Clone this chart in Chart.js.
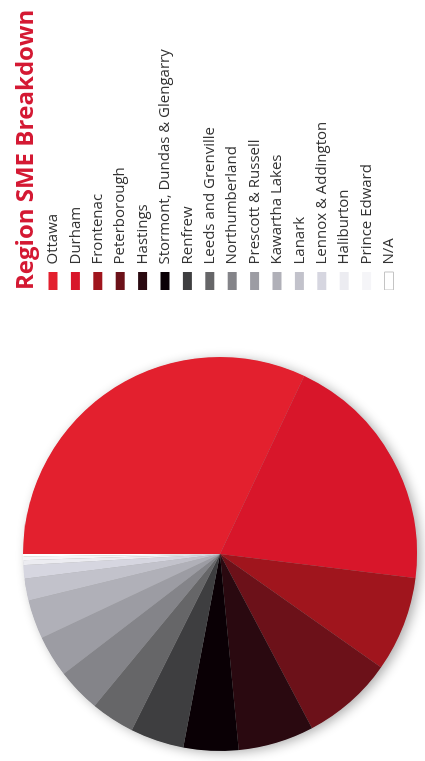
<!DOCTYPE html>
<html>
<head>
<meta charset="utf-8">
<script src="https://cdn.jsdelivr.net/npm/chart.js@4/dist/chart.umd.min.js"></script>
<style>
  html, body { margin: 0; padding: 0; background: #fff; overflow: hidden; }
  /* the page is laid out landscape and turned a quarter turn counter-clockwise */
  #page {
    position: absolute; left: 0; top: 0;
    width: 761px; height: 425px;
    transform-origin: 0 0;
    transform: translate(0, 761px) rotate(-90deg);
  }
  canvas { display: block; }
</style>
</head>
<body>
<div id="page"><canvas id="chart" width="761" height="425"></canvas></div>
<script>
const title = 'Region SME Breakdown';

const regions = [
  'Ottawa', 'Durham', 'Frontenac', 'Peterborough', 'Hastings',
  'Stormont, Dundas & Glengarry', 'Renfrew', 'Leeds and Grenville',
  'Northumberland', 'Prescott & Russell', 'Kawartha Lakes', 'Lanark',
  'Lennox & Addington', 'Haliburton', 'Prince Edward', 'N/A'
];

// share of SMEs per region, in percent
const shares = [32.0, 19.9, 7.8, 7.5, 6.2, 4.5, 4.4, 3.6, 3.6, 3.4, 3.2, 1.8, 1.1, 0.4, 0.3, 0.2];

const sliceColors = [
  '#e3202e', '#d8162a', '#a0151d', '#6c1119', '#2a0910', '#0a0005',
  '#3e3e40', '#666668', '#848489', '#9c9ca3', '#b0b0b8', '#c2c2cb',
  '#d6d6e0', '#ececf1', '#f5f5f8', '#ffffff'
];

// pie on the left half, legend column starting a little past it
const pieBox = { left: 0, top: 12, right: 414, bottom: 428 };
const legendLeft = 471;

const placeBoxes = {
  id: 'placeBoxes',
  afterLayout(chart) {
    chart.chartArea = {
      left: pieBox.left, top: pieBox.top, right: pieBox.right, bottom: pieBox.bottom,
      width: pieBox.right - pieBox.left, height: pieBox.bottom - pieBox.top
    };
    const lg = chart.legend;
    if (lg) {
      lg.left = legendLeft;
      lg.right = chart.width;
      lg.width = chart.width - legendLeft;
    }
  }
};

// soft drop shadow under the whole pie, painted once before the slices
const pieShadow = {
  id: 'pieShadow',
  beforeDatasetsDraw(chart) {
    const arc = chart.getDatasetMeta(0).data[0];
    if (!arc) return;
    const { x, y, outerRadius } = arc.getProps(['x', 'y', 'outerRadius'], true);
    const ctx = chart.ctx;
    ctx.save();
    ctx.shadowColor = 'rgba(0,0,0,0.33)';
    ctx.shadowBlur = 12;
    ctx.shadowOffsetX = -2;
    ctx.shadowOffsetY = 4;
    ctx.fillStyle = '#999';
    ctx.beginPath();
    ctx.arc(x, y, outerRadius - 0.5, 0, Math.PI * 2);
    ctx.fill();
    ctx.restore();
  }
};

const baseLabels = Chart.overrides.pie.plugins.legend.labels.generateLabels;

new Chart(document.getElementById('chart'), {
  type: 'pie',
  data: {
    labels: regions,
    datasets: [{
      data: shares,
      backgroundColor: sliceColors,
      borderWidth: 0,
      radius: 197
    }]
  },
  options: {
    responsive: false,
    devicePixelRatio: 1,
    animation: false,
    layout: { padding: { left: 0, right: 8, top: 12, bottom: 0 } },
    plugins: {
      tooltip: { enabled: false },
      legend: {
        position: 'right',
        align: 'start',
        title: {
          display: true,
          text: title,
          position: 'start',
          color: '#d41933',
          font: { family: "'Open Sans', sans-serif", size: 24, weight: 'bold', lineHeight: 1.2 },
          padding: { top: 2, bottom: 2.7 }
        },
        labels: {
          boxWidth: 18,
          boxHeight: 9,
          padding: 0,
          color: '#333333',
          font: { family: "'Open Sans', sans-serif", size: 15, lineHeight: 1.4933 },
          generateLabels(chart) {
            return baseLabels(chart).map((item, i) => ({
              ...item,
              text: [item.text],
              lineWidth: i === regions.length - 1 ? 1 : 0,
              strokeStyle: '#c4c4c4'
            }));
          }
        }
      }
    }
  },
  plugins: [placeBoxes, pieShadow]
});
</script>
</body>
</html>
